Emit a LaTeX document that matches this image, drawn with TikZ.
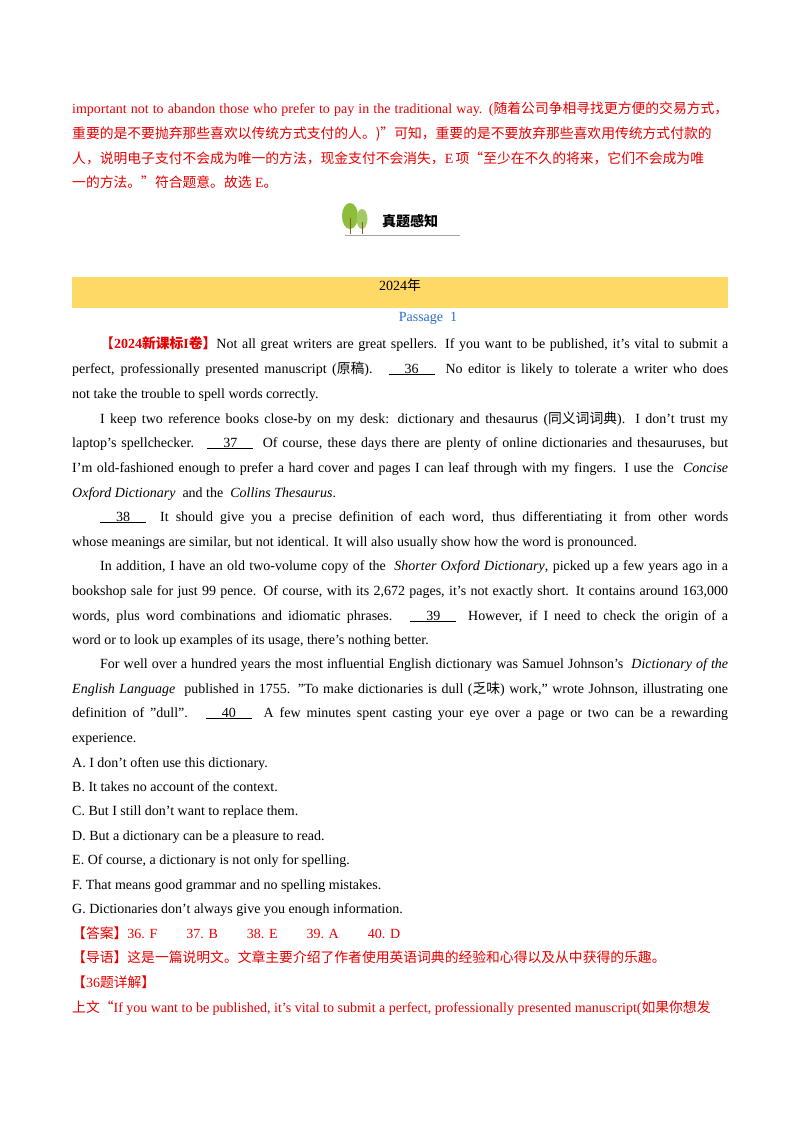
\documentclass[tikz,border=0pt]{standalone}
\usepackage{fontspec}
\setmainfont{Liberation Serif}
\newfontfamily\cjkf{Noto Sans CJK SC}
\newcommand{\cn}[1]{{\cjkf\fontsize{13.8}{15}\selectfont #1}}
\newcommand{\blank}[1]{\underline{\hspace{16pt}#1\hspace{16pt}}}
\definecolor{ans}{RGB}{230,0,0}
\definecolor{pblue}{RGB}{40,110,200}
\definecolor{band}{RGB}{255,217,102}
\definecolor{leaf}{RGB}{140,190,60}
\tikzset{ln/.style={anchor=base west,inner sep=0pt,font=\fontsize{14}{16}\selectfont}}
\newcommand{\J}[1]{\hbox to 656pt{#1}}
\newcommand{\Ji}[1]{\hbox to 628pt{#1}}
\begin{document}
\begin{tikzpicture}[x=1pt,y=-1pt]
\useasboundingbox (0,0) rectangle (800,1132);
% red intro
\begin{scope}[every node/.style={ln,text=ans}]
\node (r1) at (72,113) {\J{important not to abandon those who prefer to pay in the traditional way. (\cn{随着公司争相寻找更方便的交易方式，}}};
\node (r2) at (72,138) {\cn{重要的是不要抛弃那些喜欢以传统方式支付的人。)”可知，重要的是不要放弃那些喜欢用传统方式付款的}};
\node (r3) at (72,163) {\cn{人，说明电子支付不会成为唯一的方法，现金支付不会消失，}E\,\cn{项“至少在不久的将来，它们不会成为唯}};
\node (r4) at (72,187) {\cn{一的方法。”符合题意。故选} E\cn{。}};
\end{scope}
% logo
\draw[gray!70,line width=0.8pt] (345,235) -- (460,235);
\draw[brown!70!black,line width=1pt] (350,234) -- (350,214) (362,234) -- (362,218);
\fill[leaf] (350,216) ellipse (8 and 13);
\fill[leaf!80] (362,219) ellipse (5.5 and 10);
\draw[brown!70!black,line width=1pt] (350,234) -- (350,218) (362,234) -- (362,222);
\node[anchor=west,inner sep=0pt] (logo) at (382,221) {{\cjkf\bfseries\fontsize{14}{15}\selectfont 真题感知}};
% band
\fill[band] (72,277) rectangle (728,308);
\node[inner sep=0pt,font=\fontsize{14}{16}\selectfont] (yr) at (400,285) {2024\cn{年}};
\node[inner sep=0pt,font=\fontsize{14}{16}\selectfont,text=pblue] (ps) at (428,318) {Passage\ \ 1};
\begin{scope}[every node/.style={ln}]
\node (a1) at (72,348) {\J{\hspace{28pt}\textcolor{ans}{\cn{【}\textbf{2024}\cn{\bfseries 新课标}\textbf{I}\cn{\bfseries 卷】}}Not all great writers are great spellers. If you want to be published, it's vital to submit a}};
\node (a2) at (72,373) {\J{perfect, professionally presented manuscript (\cn{原稿}). \ \blank{36} \ No editor is likely to tolerate a writer who does}};
\node (a3) at (72,398) {not take the trouble to spell words correctly.};
\node (b1) at (100,423) {\Ji{I keep two reference books close-by on my desk: dictionary and thesaurus (\cn{同义词词典}). I don't trust my}};
\node (b2) at (72,447) {\J{laptop's spellchecker. \ \blank{37} \ Of course, these days there are plenty of online dictionaries and thesauruses, but}};
\node (b3) at (72,472) {\J{I'm old-fashioned enough to prefer a hard cover and pages I can leaf through with my fingers. I use the \ \textit{Concise}}};
\node (b4) at (72,497) {\textit{Oxford Dictionary} \ and the \ \textit{Collins Thesaurus}.};
\node (c1) at (100,521) {\Ji{\blank{38} \ It should give you a precise definition of each word, thus differentiating it from other words}};
\node (c2) at (72,546) {whose meanings are similar, but not identical. It will also usually show how the word is pronounced.};
\node (d1) at (100,570) {\Ji{In addition, I have an old two-volume copy of the \ \textit{Shorter Oxford Dictionary}, picked up a few years ago in a}};
\node (d2) at (72,595) {\J{bookshop sale for just 99 pence. Of course, with its 2,672 pages, it's not exactly short. It contains around 163,000}};
\node (d3) at (72,620) {\J{words, plus word combinations and idiomatic phrases. \ \blank{39} \ However, if I need to check the origin of a}};
\node (d4) at (72,644) {word or to look up examples of its usage, there's nothing better.};
\node (e1) at (100,668) {\Ji{For well over a hundred years the most influential English dictionary was Samuel Johnson's \ \textit{Dictionary of the}}};
\node (e2) at (72,693) {\J{\textit{English Language} \ published in 1755. "To make dictionaries is dull (\cn{乏味}) work," wrote Johnson, illustrating one}};
\node (e3) at (72,717) {\J{definition of "dull". \ \blank{40} \ A few minutes spent casting your eye over a page or two can be a rewarding}};
\node (e4) at (72,742) {experience.};
\node (oA) at (72,767) {A. I don't often use this dictionary.};
\node (oB) at (72,791) {B. It takes no account of the context.};
\node (oC) at (72,815) {C. But I still don't want to replace them.};
\node (oD) at (72,840) {D. But a dictionary can be a pleasure to read.};
\node (oE) at (72,864) {E. Of course, a dictionary is not only for spelling.};
\node (oF) at (72,889) {F. That means good grammar and no spelling mistakes.};
\node (oG) at (72,913) {G. Dictionaries don't always give you enough information.};
\end{scope}
\begin{scope}[every node/.style={ln,text=ans}]
\node (k1) at (72,938) {\cn{【答案】}36. F \hspace{22pt} 37. B \hspace{22pt} 38. E \hspace{22pt} 39. A \hspace{22pt} 40. D};
\node (k2) at (72,962) {\cn{【导语】这是一篇说明文。文章主要介绍了作者使用英语词典的经验和心得以及从中获得的乐趣。}};
\node (k3) at (72,987) {\cn{【}36\cn{题详解】}};
\node (k4) at (72,1012) {\cn{上文“}If you want to be published, it’s vital to submit a perfect, professionally presented manuscript(\cn{如果你想发}};
\end{scope}
\end{tikzpicture}
\end{document}
